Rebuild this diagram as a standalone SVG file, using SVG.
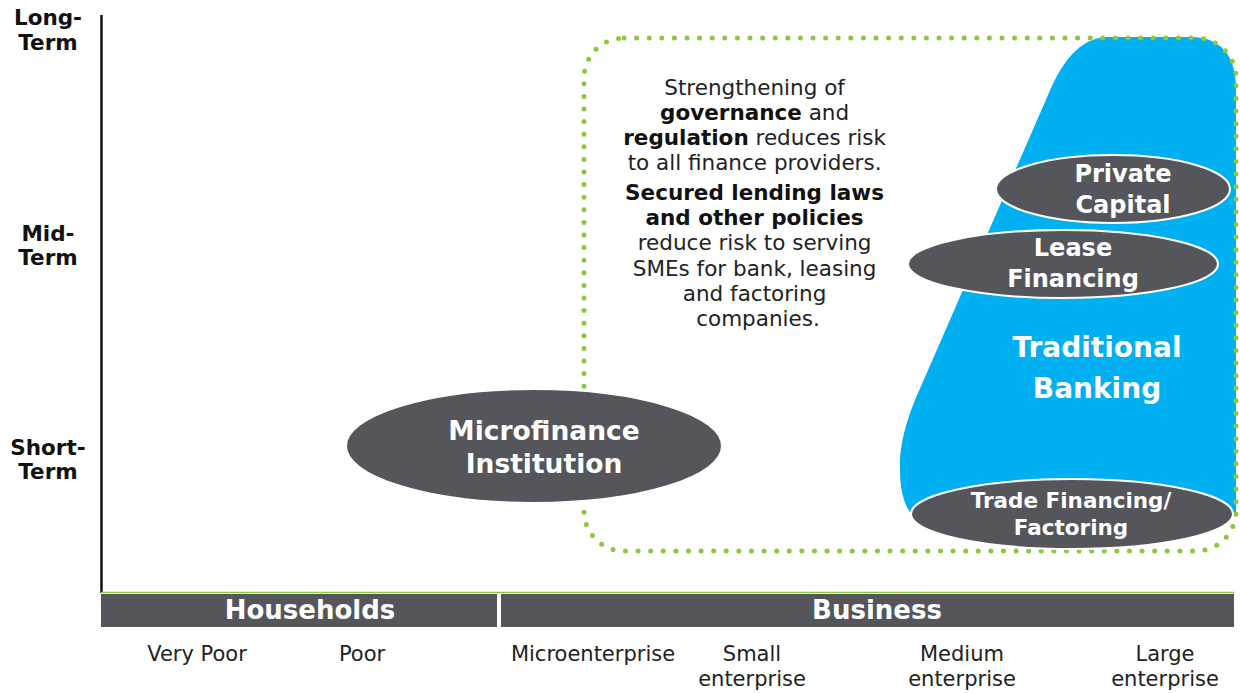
<svg xmlns="http://www.w3.org/2000/svg" width="1240" height="693" viewBox="0 0 1240 693">
<style>
.ax{font-family:"DejaVu Sans",Verdana,sans-serif;font-weight:bold;font-size:21.5px;fill:#111;text-anchor:middle}
.body{font-family:"DejaVu Sans",Verdana,sans-serif;font-size:21.5px;fill:#222;text-anchor:middle}
.body .b{font-weight:bold;fill:#111}
.lbl{font-family:"DejaVu Sans",Verdana,sans-serif;font-size:21px;fill:#222;text-anchor:middle}
.wt{font-family:"DejaVu Sans",Verdana,sans-serif;font-weight:bold;fill:#fff;text-anchor:middle}
.ell{fill:#54565b;stroke:#fff;stroke-width:2}
.bar{fill:#54565b}
</style>
<rect width="1240" height="693" fill="#fff"/>
<g id="axis">
<line x1="101.5" y1="15" x2="101.5" y2="593" stroke="#111" stroke-width="2.5"/>
<line x1="101" y1="592.5" x2="1234" y2="592.5" stroke="#8dc63f" stroke-width="1.5"/>
<text class="ax" x="48" y="25">Long-</text>
<text class="ax" x="48" y="50">Term</text>
<text class="ax" x="48" y="241">Mid-</text>
<text class="ax" x="48" y="265">Term</text>
<text class="ax" x="48" y="455">Short-</text>
<text class="ax" x="48" y="479">Term</text>
</g>
<g id="households">
<rect class="bar" x="101" y="594" width="396" height="33"/>
<text class="wt" x="310" y="619" font-size="26">Households</text>
</g>
<g id="business">
<rect class="bar" x="501" y="594" width="733" height="33"/>
<text class="wt" x="877" y="619" font-size="26">Business</text>
</g>
<g id="categories">
<text class="lbl" x="197" y="661">Very Poor</text>
<text class="lbl" x="362" y="661">Poor</text>
<text class="lbl" x="593" y="661">Microenterprise</text>
<text class="lbl" x="752" y="661">Small</text>
<text class="lbl" x="752" y="686">enterprise</text>
<text class="lbl" x="962" y="661">Medium</text>
<text class="lbl" x="962" y="686">enterprise</text>
<text class="lbl" x="1165" y="661">Large</text>
<text class="lbl" x="1165" y="686">enterprise</text>
</g>
<g id="traditional-banking">
<path d="M1105,37 L1190,37 Q1236,37 1236,90 L1236,515 L912,515 C904,505 900,490 900,470 C899,448 905,425 915,400 L1048,95 Q1070,40 1105,37 Z" fill="#00b0f0"/>
<text class="wt" x="1097" y="357" font-size="28">Traditional</text>
<text class="wt" x="1097" y="398" font-size="28">Banking</text>
</g>
<g id="policy-zone">
<rect x="584" y="38" width="652" height="513" rx="40" ry="40" fill="none" stroke="#8dc63f" stroke-width="5" stroke-linecap="round" stroke-dasharray="0 12.6"/>
<text class="body">
<tspan x="758" y="95">Strengthening of</tspan>
<tspan x="758" y="120"><tspan class="b">governance</tspan> and</tspan>
<tspan x="758" y="145"><tspan class="b">regulation</tspan> reduces risk</tspan>
<tspan x="758" y="170">to all finance providers.</tspan>
<tspan x="758" y="200" class="b">Secured lending laws</tspan>
<tspan x="758" y="225" class="b">and other policies</tspan>
<tspan x="758" y="250">reduce risk to serving</tspan>
<tspan x="758" y="276">SMEs for bank, leasing</tspan>
<tspan x="758" y="301">and factoring</tspan>
<tspan x="758" y="326">companies.</tspan>
</text>
</g>
<g id="microfinance">
<ellipse class="ell" cx="534" cy="446" rx="188" ry="57"/>
<text class="wt" x="544" y="440" font-size="26.5">Microfinance</text>
<text class="wt" x="544" y="473" font-size="26.5">Institution</text>
</g>
<g id="private-capital">
<ellipse class="ell" cx="1113" cy="189" rx="117" ry="34"/>
<text class="wt" x="1123" y="182" font-size="24">Private</text>
<text class="wt" x="1123" y="213" font-size="24">Capital</text>
</g>
<g id="lease-financing">
<ellipse class="ell" cx="1063" cy="264" rx="155" ry="34"/>
<text class="wt" x="1073" y="256" font-size="24">Lease</text>
<text class="wt" x="1073" y="287" font-size="24">Financing</text>
</g>
<g id="trade-financing">
<ellipse class="ell" cx="1072" cy="514" rx="161" ry="35"/>
<text class="wt" x="1071" y="508" font-size="21.5">Trade Financing/</text>
<text class="wt" x="1071" y="535" font-size="21.5">Factoring</text>
</g>
</svg>
